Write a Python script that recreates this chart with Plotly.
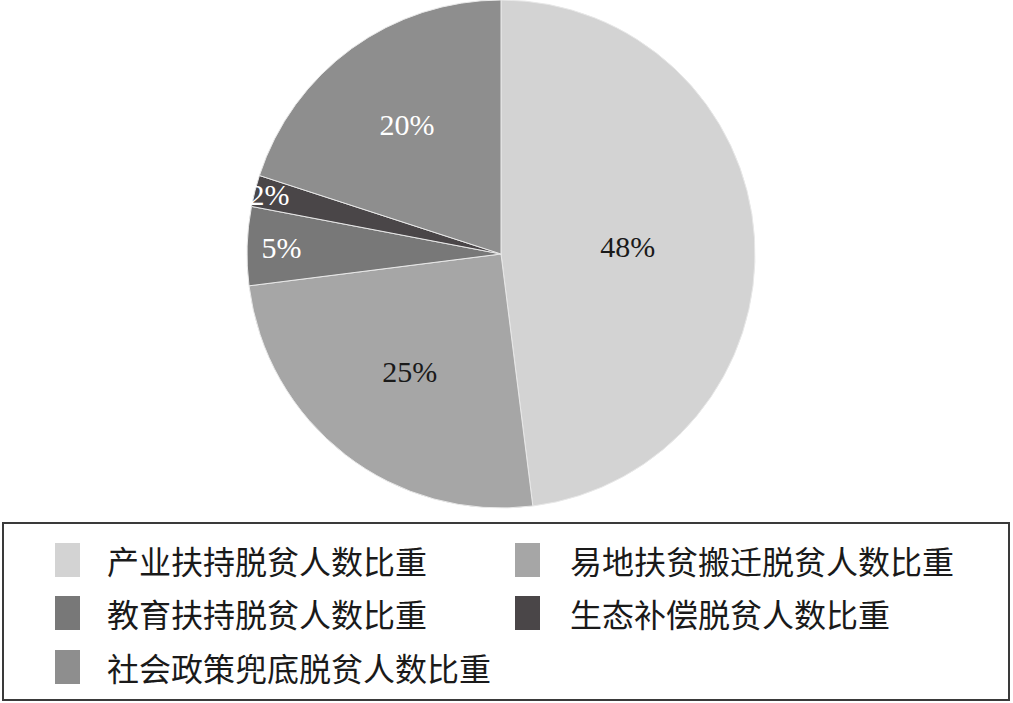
import plotly.graph_objects as go

labels = ["产业扶持脱贫人数比重", "易地扶贫搬迁脱贫人数比重", "教育扶持脱贫人数比重",
          "生态补偿脱贫人数比重", "社会政策兜底脱贫人数比重"]
values = [48, 25, 5, 2, 20]
colors = ["#d3d3d3", "#a6a6a6", "#787878", "#4a4648", "#8e8e8e"]
text_colors = ["#1a1a1a", "#1a1a1a", "#ffffff", "#ffffff", "#ffffff"]

W, H = 1013, 703

def px(x):
    return x / W

def py(y):
    return 1 - y / H

cx, cy, r = 501, 254, 254

pct_font = dict(family="Liberation Serif", size=30, color=text_colors)

fig = go.Figure()
fig.add_trace(go.Pie(
    labels=labels,
    values=values,
    sort=False,
    direction="clockwise",
    rotation=0,
    marker=dict(colors=colors, line=dict(color="#e8e8e8", width=1)),
    texttemplate="%{value}%",
    textposition="inside",
    insidetextorientation="horizontal",
    textfont=pct_font,
    insidetextfont=pct_font,
    domain=dict(x=[px(cx - r), px(cx + r)], y=[py(cy + r), py(cy - r)]),
    showlegend=False,
    hoverinfo="label+percent",
))

shapes = []
annotations = []
# legend frame
shapes.append(dict(type="rect", xref="paper", yref="paper",
                   x0=px(3), x1=px(1009), y0=py(700), y1=py(523),
                   line=dict(color="#3a3a3a", width=2), fillcolor="rgba(0,0,0,0)"))
col_sw = [55, 515]
col_tx = [105, 568]
row_c = [560, 613, 667]
for i, (lab, col) in enumerate(zip(labels, colors)):
    c = i % 2
    rr = i // 2
    yc = row_c[rr]
    shapes.append(dict(type="rect", xref="paper", yref="paper",
                       x0=px(col_sw[c]), x1=px(col_sw[c] + 25),
                       y0=py(yc + 17), y1=py(yc - 17),
                       line=dict(width=0), fillcolor=col))
    annotations.append(dict(xref="paper", yref="paper", x=px(col_tx[c]), y=py(yc),
                            xanchor="left", yanchor="middle", showarrow=False,
                            text=lab, font=dict(family="Noto Sans CJK SC", size=32, color="#1a1a1a")))

fig.update_layout(
    width=W, height=H,
    margin=dict(l=0, r=0, t=0, b=0),
    paper_bgcolor="white",
    plot_bgcolor="white",
    font=dict(family="Liberation Serif"),
    uniformtext=dict(minsize=30, mode="show"),
    shapes=shapes,
    annotations=annotations,
)

fig.write_html("out.html", config={"displayModeBar": False},
               post_script="document.body.style.margin='0';document.body.style.overflow='hidden';")
